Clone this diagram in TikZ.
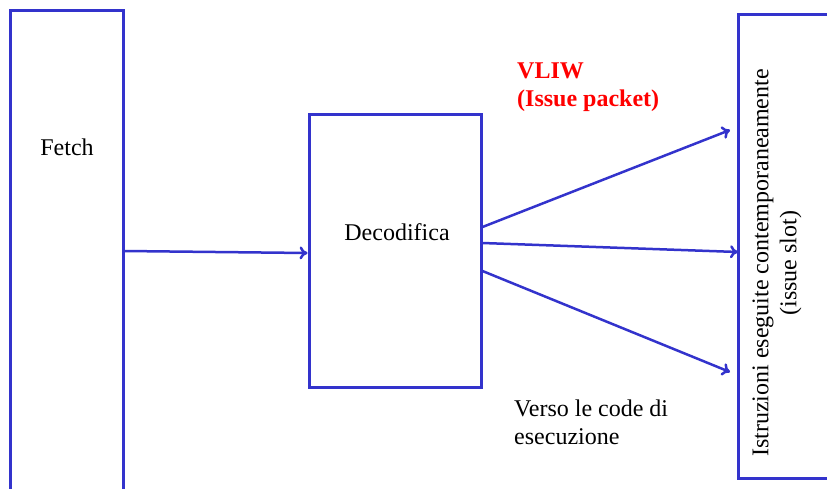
\documentclass[tikz,border=0pt]{standalone}
\usepackage{fontspec}
\setmainfont{Liberation Serif}
\usepackage{tikz}
\usetikzlibrary{arrows.meta,positioning,calc}
\usepackage{xcolor}
\definecolor{stageblue}{RGB}{51,51,204}

\tikzset{
  stagebox/.style={draw=stageblue, line width=3pt, inner sep=0pt},
  flow/.style={draw=stageblue, line width=2.5pt, -{To[length=8pt,width=13pt]}},
  txt/.style={inner sep=0pt, font=\fontsize{24}{28}\selectfont}
}

\begin{document}
\begin{tikzpicture}[x=1pt, y=-1pt]
                    \clip (0,0) rectangle (827,488);
                    % stadi della pipeline
                    \node[stagebox, minimum width=113, minimum height=490] (Fetch) at (66.5,255) {};
                    \node[txt] (FetchLbl) at (67,147) {Fetch};
                    \node[stagebox, minimum width=172, minimum height=273] (Dec) at (395,250.5) {};
                    \node[txt] (DecLbl) at (397,232) {Decodifica};
                    \node[stagebox, minimum width=110, minimum height=464] (Slot) at (793,246) {};
                    \node[txt, rotate=90, align=center] (SlotLbl) at (777,263) {Istruzioni eseguite contemporaneamente\\(issue slot)};
                    % etichette
                    \node[txt, anchor=west, align=left, text=red, font=\fontsize{24}{28}\selectfont\bfseries] (VLIW) at (517,87) {VLIW\\(Issue packet)};
                    \node[txt, anchor=west, align=left] (Verso) at (514,422) {Verso le code di\\esecuzione};
                    % frecce
                    \coordinate (S1) at (730,130);
                    \coordinate (S2) at (738,252);
                    \coordinate (S3) at (730,372);
                    \draw[flow] ([yshift=4pt]Fetch.east) -- ([yshift=-2.5pt]Dec.west);
                    \draw[flow] ([yshift=23.5pt]Dec.east) -- (S1);
                    \draw[flow] ([yshift=7.5pt]Dec.east) -- (S2);
                    \draw[flow] ([yshift=-20.5pt]Dec.east) -- (S3);
\end{tikzpicture}
\end{document}
